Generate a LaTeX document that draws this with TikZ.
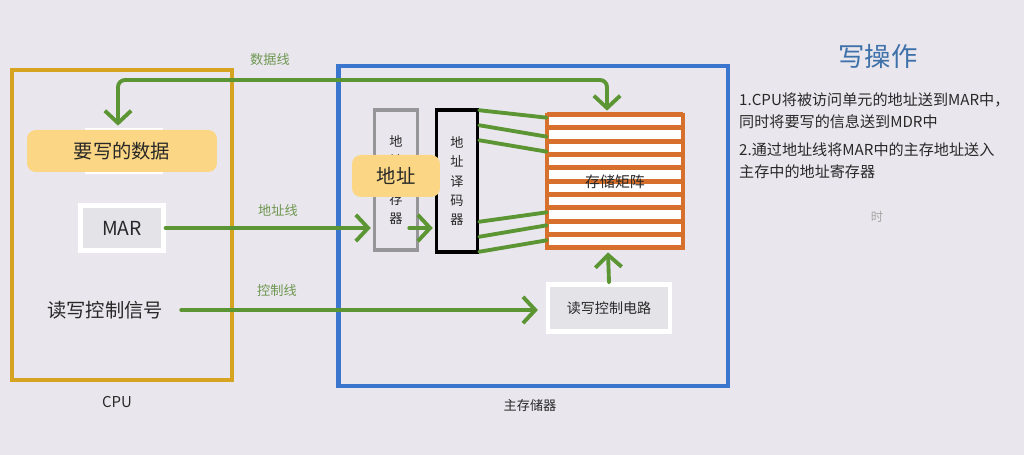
\documentclass[tikz,border=0pt]{standalone}
\usepackage{fontspec}
\setmainfont{Noto Sans CJK SC}
\usepackage{xcolor}
\usetikzlibrary{arrows.meta, positioning, calc}
\definecolor{bgcol}{RGB}{233, 231, 237}
\definecolor{cpugold}{RGB}{214, 164, 32}
\definecolor{memblue}{RGB}{58, 118, 205}
\definecolor{wiregreen}{RGB}{92, 150, 52}
\definecolor{labelgreen}{RGB}{110, 150, 80}
\definecolor{matorange}{RGB}{214, 112, 44}
\definecolor{bubbleyellow}{RGB}{251, 214, 132}
\definecolor{boxgrey}{RGB}{228, 227, 232}
\definecolor{reggrey}{RGB}{150, 150, 152}
\definecolor{titleblue}{RGB}{62, 112, 170}
\definecolor{textdark}{RGB}{40, 40, 40}
\tikzstyle{wire} = [draw=wiregreen, line width=2.2pt, line cap=round]
\tikzstyle{arr} = [wire, -{Straight Barb[length=7pt, width=15pt]}]
\tikzstyle{bubble} = [fill=bubbleyellow, rounded corners=5pt, text=textdark, font=\fontsize{11}{13}\selectfont]
\tikzstyle{whitebox} = [draw=white, line width=2.4pt, fill=boxgrey, text=textdark]
\tikzstyle{vbox} = [line width=2pt, align=center, text=textdark, font=\fontsize{7.5}{11}\selectfont]
\tikzstyle{linelabel} = [text=labelgreen, font=\fontsize{7.5}{9}\selectfont]

\begin{document}
\begin{tikzpicture}[x=0.02cm, y=-0.02cm]
    \fill[bgcol] (0,0) rectangle (1024,455);
    \useasboundingbox (0,0) rectangle (1024,455);

    % CPU side
    \node[draw=cpugold, line width=2.8pt, minimum width=4.4cm, minimum height=6.2cm] (cpu) at (122,225) {};
    \node[text=textdark, font=\fontsize{8.5}{10}\selectfont] (cpulbl) at (117,402) {CPU};
    \node[fill=white, minimum width=1.56cm, minimum height=0.92cm] (mdr) at (124,151) {};
    \node[bubble, minimum width=3.8cm, minimum height=0.84cm] (dat) at (122,151) {要写的数据};
    \node[whitebox, minimum width=1.66cm, minimum height=0.9cm, font=\fontsize{11}{13}\selectfont] (mar) at (122,228) {MAR};
    \node[text=textdark, font=\fontsize{11}{13}\selectfont] (sig) at (105,310) {读写控制信号};

    % Main memory side
    \node[draw=memblue, line width=2.8pt, minimum width=7.8cm, minimum height=6.4cm] (mem) at (533,226) {};
    \node[text=textdark, font=\fontsize{7.5}{9}\selectfont] (memlbl) at (530,405) {主存储器};
    \node[vbox, draw=reggrey, minimum width=0.86cm, minimum height=2.8cm] (areg) at (396,180) {地\\址\\寄\\存\\器};
    \node[vbox, draw=black, minimum width=0.82cm, minimum height=2.84cm] (adec) at (457,181) {地\\址\\译\\码\\器};
    \node[bubble, minimum width=1.76cm, minimum height=0.84cm] (abub) at (396,176) {地址};

    % storage matrix
    \node[fill=white, minimum width=2.72cm, minimum height=2.74cm] (mat) at (615,181.5) {};
    \foreach \i in {0,...,10}
        \draw[matorange, line width=2.8pt] ($(mat.north west)+(0,2+\i*13.3)$) -- ($(mat.north east)+(0,2+\i*13.3)$);
    \draw[matorange, line width=2.4pt] (mat.north west) -- (mat.south west);
    \draw[matorange, line width=2.4pt] (mat.north east) -- (mat.south east);
    \node[text=textdark, font=\fontsize{8.5}{10}\selectfont] (matlbl) at (mat) {存储矩阵};
    \node[whitebox, minimum width=2.44cm, minimum height=0.94cm, font=\fontsize{8}{10}\selectfont] (rwc) at (609,308) {读写控制电路};

    % decoder outputs
    \draw[wire] ($(adec.north east)+(0,2)$) -- ($(mat.north west)+(0,5)$);
    \draw[wire] ($(adec.north east)+(0,17)$) -- ($(mat.north west)+(0,24)$);
    \draw[wire] ($(adec.north east)+(0,32)$) -- ($(mat.north west)+(0,39)$);
    \draw[wire] ($(adec.south east)+(0,-32)$) -- ($(mat.south west)+(0,-38)$);
    \draw[wire] ($(adec.south east)+(0,-17)$) -- ($(mat.south west)+(0,-25)$);
    \draw[wire] ($(adec.south east)+(0,-2)$) -- ($(mat.south west)+(0,-10)$);

    % buses
    \coordinate (dturn) at (607,80);
    \draw[wire, rounded corners=4pt, {Straight Barb[length=7pt, width=15pt]}-{Straight Barb[length=7pt, width=15pt]}] ($(dat.north)+(-4,-4)$) |- (dturn) -- ($(mat.north)+(-8,-2)$);
    \node[linelabel] (dlbl) at (270,60) {数据线};
    \draw[arr] (mar.east) -- ($(mar.east -| areg.west)+(-2,0)$);
    \draw[arr] ($(mar.east -| areg.east)+(-10,0)$) -- ($(mar.east -| adec.west)+(-2,0)$);
    \node[linelabel] (albl) at (278,210) {地址线};
    \draw[arr] ($(sig.east)+(12,0)$) -- ($(sig.east -| rwc.west)+(-8,0)$);
    \node[linelabel] (clbl) at (277,290) {控制线};
    \draw[arr] (rwc.north) -- ($(mat.south)+(-7,2)$);

    % Description
    \node[text=titleblue, font=\fontsize{15}{18}\selectfont] (title) at (878,57) {写操作};
    \node[anchor=west, align=left, text=textdark, font=\fontsize{8.6}{12.5}\selectfont] (step1) at (733,111) {1.CPU将被访问单元的地址送到MAR中，\\同时将要写的信息送到MDR中};
    \node[anchor=west, align=left, text=textdark, font=\fontsize{8.6}{12.5}\selectfont] (step2) at (733,161) {2.通过地址线将MAR中的主存地址送入\\主存中的地址寄存器};
    \node[text=gray!70, font=\fontsize{7}{8}\selectfont] (mark) at (877,217) {时};
\end{tikzpicture}
\end{document}
